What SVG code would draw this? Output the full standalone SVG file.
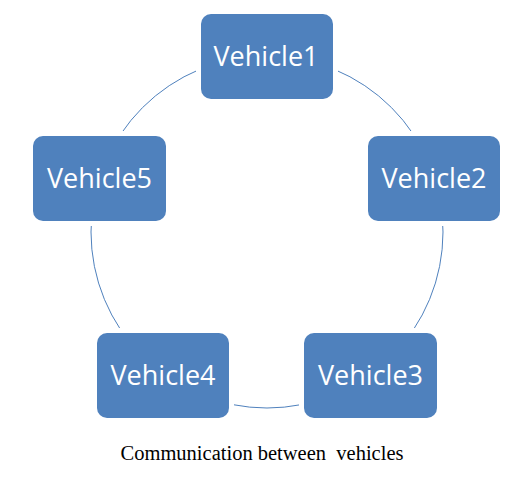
<svg xmlns="http://www.w3.org/2000/svg" width="526" height="490" viewBox="0 0 526 490">
<style>
.halo{fill:#ffffff}
.box{fill:#4f81bd}
.lbl{fill:#ffffff;font-family:"Open Sans","Noto Sans","Liberation Sans",sans-serif;font-size:27px;text-anchor:middle;dominant-baseline:central}
.cap{fill:#000000;font-family:"Liberation Serif",serif;font-size:20.5px;text-anchor:middle;white-space:pre}
</style>
<rect width="526" height="490" fill="#ffffff"/>
<g id="connectors">
<circle cx="267" cy="232" r="176" fill="none" stroke="#4f81bd" stroke-width="1"/>
</g>
<g id="vehicle1">
<rect class="halo" x="196" y="9" width="142" height="95" rx="14"/>
<rect class="box" x="201" y="14" width="132" height="85" rx="10"/>
<text class="lbl" x="266" y="55">Vehicle1</text>
</g>
<g id="vehicle2">
<rect class="halo" x="363" y="131" width="142" height="95" rx="14"/>
<rect class="box" x="368" y="136" width="132" height="85" rx="10"/>
<text class="lbl" x="434" y="177">Vehicle2</text>
</g>
<g id="vehicle3">
<rect class="halo" x="299" y="328" width="143" height="95" rx="14"/>
<rect class="box" x="304" y="333" width="133" height="85" rx="10"/>
<text class="lbl" x="370.5" y="374">Vehicle3</text>
</g>
<g id="vehicle4">
<rect class="halo" x="92" y="328" width="142" height="95" rx="14"/>
<rect class="box" x="97" y="333" width="132" height="85" rx="10"/>
<text class="lbl" x="163" y="374">Vehicle4</text>
</g>
<g id="vehicle5">
<rect class="halo" x="28" y="131" width="143" height="95" rx="14"/>
<rect class="box" x="33" y="136" width="133" height="85" rx="10"/>
<text class="lbl" x="99.5" y="177">Vehicle5</text>
</g>
<text class="cap" x="262" y="460">Communication between  vehicles</text>
</svg>
